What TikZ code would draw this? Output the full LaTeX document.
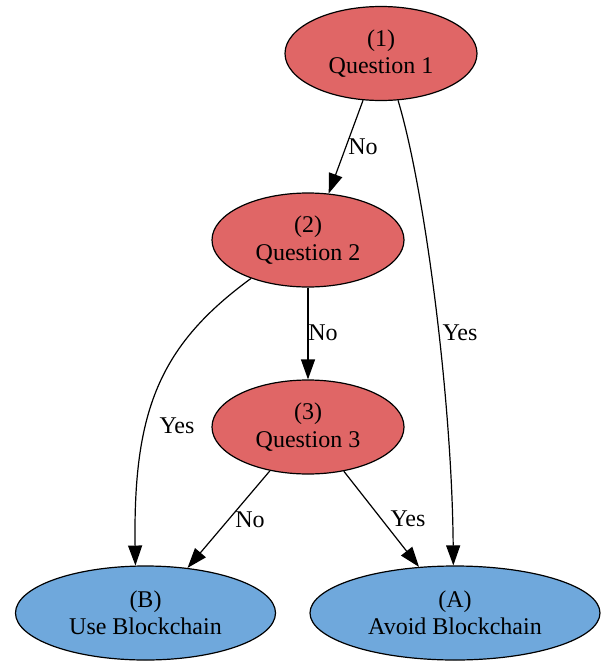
\documentclass[tikz,border=0pt]{standalone}
\usepackage{fontspec}
\setmainfont{Liberation Serif}
\usetikzlibrary{shapes.geometric,arrows.meta}
\definecolor{qred}{HTML}{E06666}
\definecolor{ablue}{HTML}{6FA8DC}
\tikzset{quest/.style={ellipse,draw=black,fill=qred,line width=0.9pt,inner sep=0pt,minimum width=144pt,minimum height=70.5pt,align=center,font=\fontsize{18}{20.5}\selectfont},
  outcome/.style={quest,fill=ablue},
  edge/.style={line width=0.9pt,-{Triangle[length=15pt,width=10.5pt]}},
  lbl/.style={inner sep=0pt,font=\fontsize{18}{20.5}\selectfont}}

\begin{document}
\begin{tikzpicture}[x=0.75pt,y=-0.75pt]
        \useasboundingbox (0,0) rectangle (605,661);
        \node[quest] (q1) at (381,53.5) {(1)\\Question 1};
        \node[quest] (q2) at (308,240) {(2)\\Question 2};
        \node[quest] (q3) at (308,427) {(3)\\Question 3};
        \node[outcome,minimum width=195pt] (B) at (145.5,613) {(B)\\Use Blockchain};
        \node[outcome,minimum width=217.5pt] (A) at (455,613) {(A)\\Avoid Blockchain};

        \draw[edge] (q1.-111) -- (q2.66);
        \draw[edge] (q1.-70) .. controls (425,190) and (452,400) .. (A.92);
        \draw[edge] (q2) -- (q3);
        \draw[edge] (q2.-146) .. controls (160,345) and (133,410) .. (B.102);
        \draw[edge] (q3.-131) -- (B.47.5);
        \draw[edge] (q3.-51) -- (A.128);

        \node[lbl] (l1) at (363,147) {No};
        \node[lbl] (l2) at (460,333) {Yes};
        \node[lbl] (l3) at (323,333) {No};
        \node[lbl] (l4) at (177,426) {Yes};
        \node[lbl] (l5) at (250,520) {No};
        \node[lbl] (l6) at (408,519) {Yes};
    \end{tikzpicture}
\end{document}
